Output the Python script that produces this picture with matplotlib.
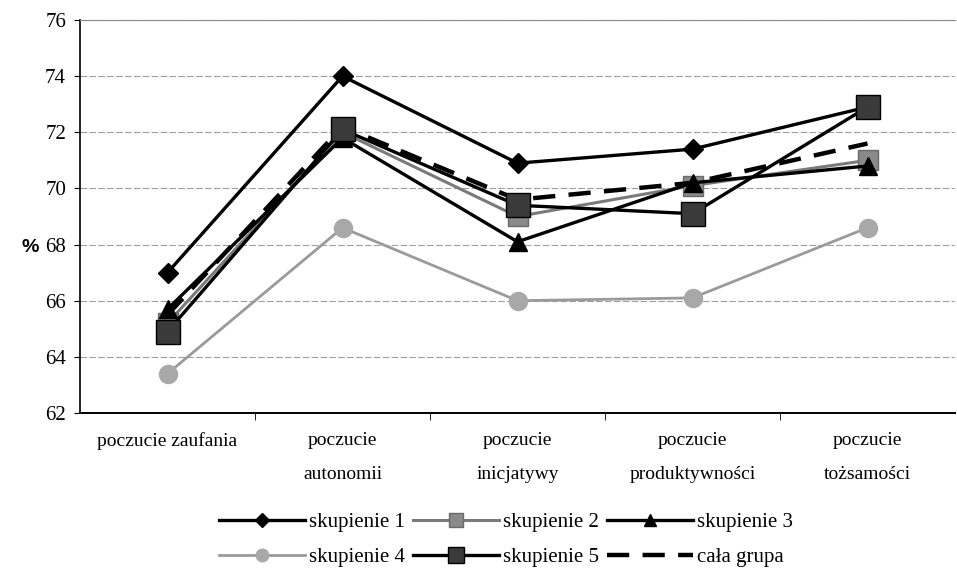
import matplotlib
matplotlib.use("Agg")
import matplotlib.pyplot as plt
from matplotlib.lines import Line2D

categories = ["poczucie zaufania", "poczucie\nautonomii", "poczucie\ninicjatywy",
              "poczucie\nproduktywności", "poczucie\ntożsamości"]
s1 = [67.0, 74.0, 70.9, 71.4, 72.9]
s2 = [65.2, 72.0, 69.0, 70.1, 71.0]
s3 = [65.7, 71.8, 68.1, 70.2, 70.8]
s4 = [63.4, 68.6, 66.0, 66.1, 68.6]
s5 = [64.9, 72.1, 69.4, 69.1, 72.9]
all_group = [65.5, 72.2, 69.6, 70.2, 71.6]
yticks = [62, 64, 66, 68, 70, 72, 74, 76]

plt.rcParams['font.family'] = ['Liberation Serif', 'DejaVu Serif']

fig = plt.figure(figsize=(9.57, 5.88), dpi=100)
ax = fig.add_axes([80/957, 1-413/588, 875/957, 393/588])

x = list(range(len(categories)))
gray = '#9a9a9a'
ax.plot(x, s4, color=gray, lw=2.0, marker='o', ms=13, mfc='#a8a8a8', mec='#a8a8a8', zorder=3)
ax.plot(x, s2, color='#7a7a7a', lw=2.2, marker='s', ms=15, mfc='#8a8a8a', mec='#6a6a6a', zorder=3)
ax.plot(x, s3, color='black', lw=2.4, marker='^', ms=13, mfc='black', mec='black', zorder=4)
ax.plot(x, all_group, color='black', lw=3.2, ls=(0, (5, 3)), zorder=5)
ax.plot(x, s1, color='black', lw=2.4, marker='D', ms=10, mfc='black', mec='black', zorder=6)
ax.plot(x, s5, color='black', lw=2.4, marker='s', ms=17, mfc='#3a3a3a', mec='black', zorder=7)

ax.set_xlim(-0.5, len(categories) - 0.5)
ax.set_ylim(62, 76)
ax.set_yticks(yticks)
ax.set_yticklabels([str(v) for v in yticks], fontsize=15)
ax.set_xticks(x)
ax.set_xticklabels(categories, fontsize=14, linespacing=2.3)
ax.tick_params(axis='x', length=0, pad=14)
ax.set_xticks([i + 0.5 for i in range(len(categories) - 1)], minor=True)
ax.tick_params(axis='x', which='minor', length=5, direction='out')
ax.tick_params(axis='y', length=4, direction='out', pad=6)
ax.yaxis.grid(True, color='#a0a0a0', lw=0.8, ls=(0, (6, 2)))
ax.set_axisbelow(True)
ax.spines['right'].set_visible(False)
ax.spines['top'].set_color('#888888')
ax.spines['top'].set_linewidth(0.8)
ax.spines['left'].set_linewidth(1.2)
ax.spines['bottom'].set_linewidth(1.4)

fig.text(30/957, 1-248/588, '%', fontsize=14, fontweight='bold', family='Liberation Sans', ha='center', va='center')

handles = [
    Line2D([], [], color='black', lw=2.4, marker='D', ms=7, mfc='black', mec='black'),
    Line2D([], [], color='#7a7a7a', lw=2.2, marker='s', ms=10, mfc='#8a8a8a', mec='#6a6a6a'),
    Line2D([], [], color='black', lw=2.4, marker='^', ms=9, mfc='black', mec='black'),
    Line2D([], [], color=gray, lw=2.0, marker='o', ms=9, mfc='#a8a8a8', mec='#a8a8a8'),
    Line2D([], [], color='black', lw=2.4, marker='s', ms=11, mfc='#3a3a3a', mec='black'),
    Line2D([], [], color='black', lw=3.2, ls=(0, (5, 3))),
]
labels = ['skupienie 1', 'skupienie 2', 'skupienie 3', 'skupienie 4', 'skupienie 5', 'cała grupa']
order = [0, 3, 1, 4, 2, 5]
fig.legend([handles[i] for i in order], [labels[i] for i in order], ncol=3,
           loc='center', bbox_to_anchor=(506/957, 1-540/588), frameon=False,
           fontsize=15, handlelength=4.1, handletextpad=0.2, columnspacing=0.4,
           labelspacing=0.75)

fig.savefig('out.png', dpi=100)
